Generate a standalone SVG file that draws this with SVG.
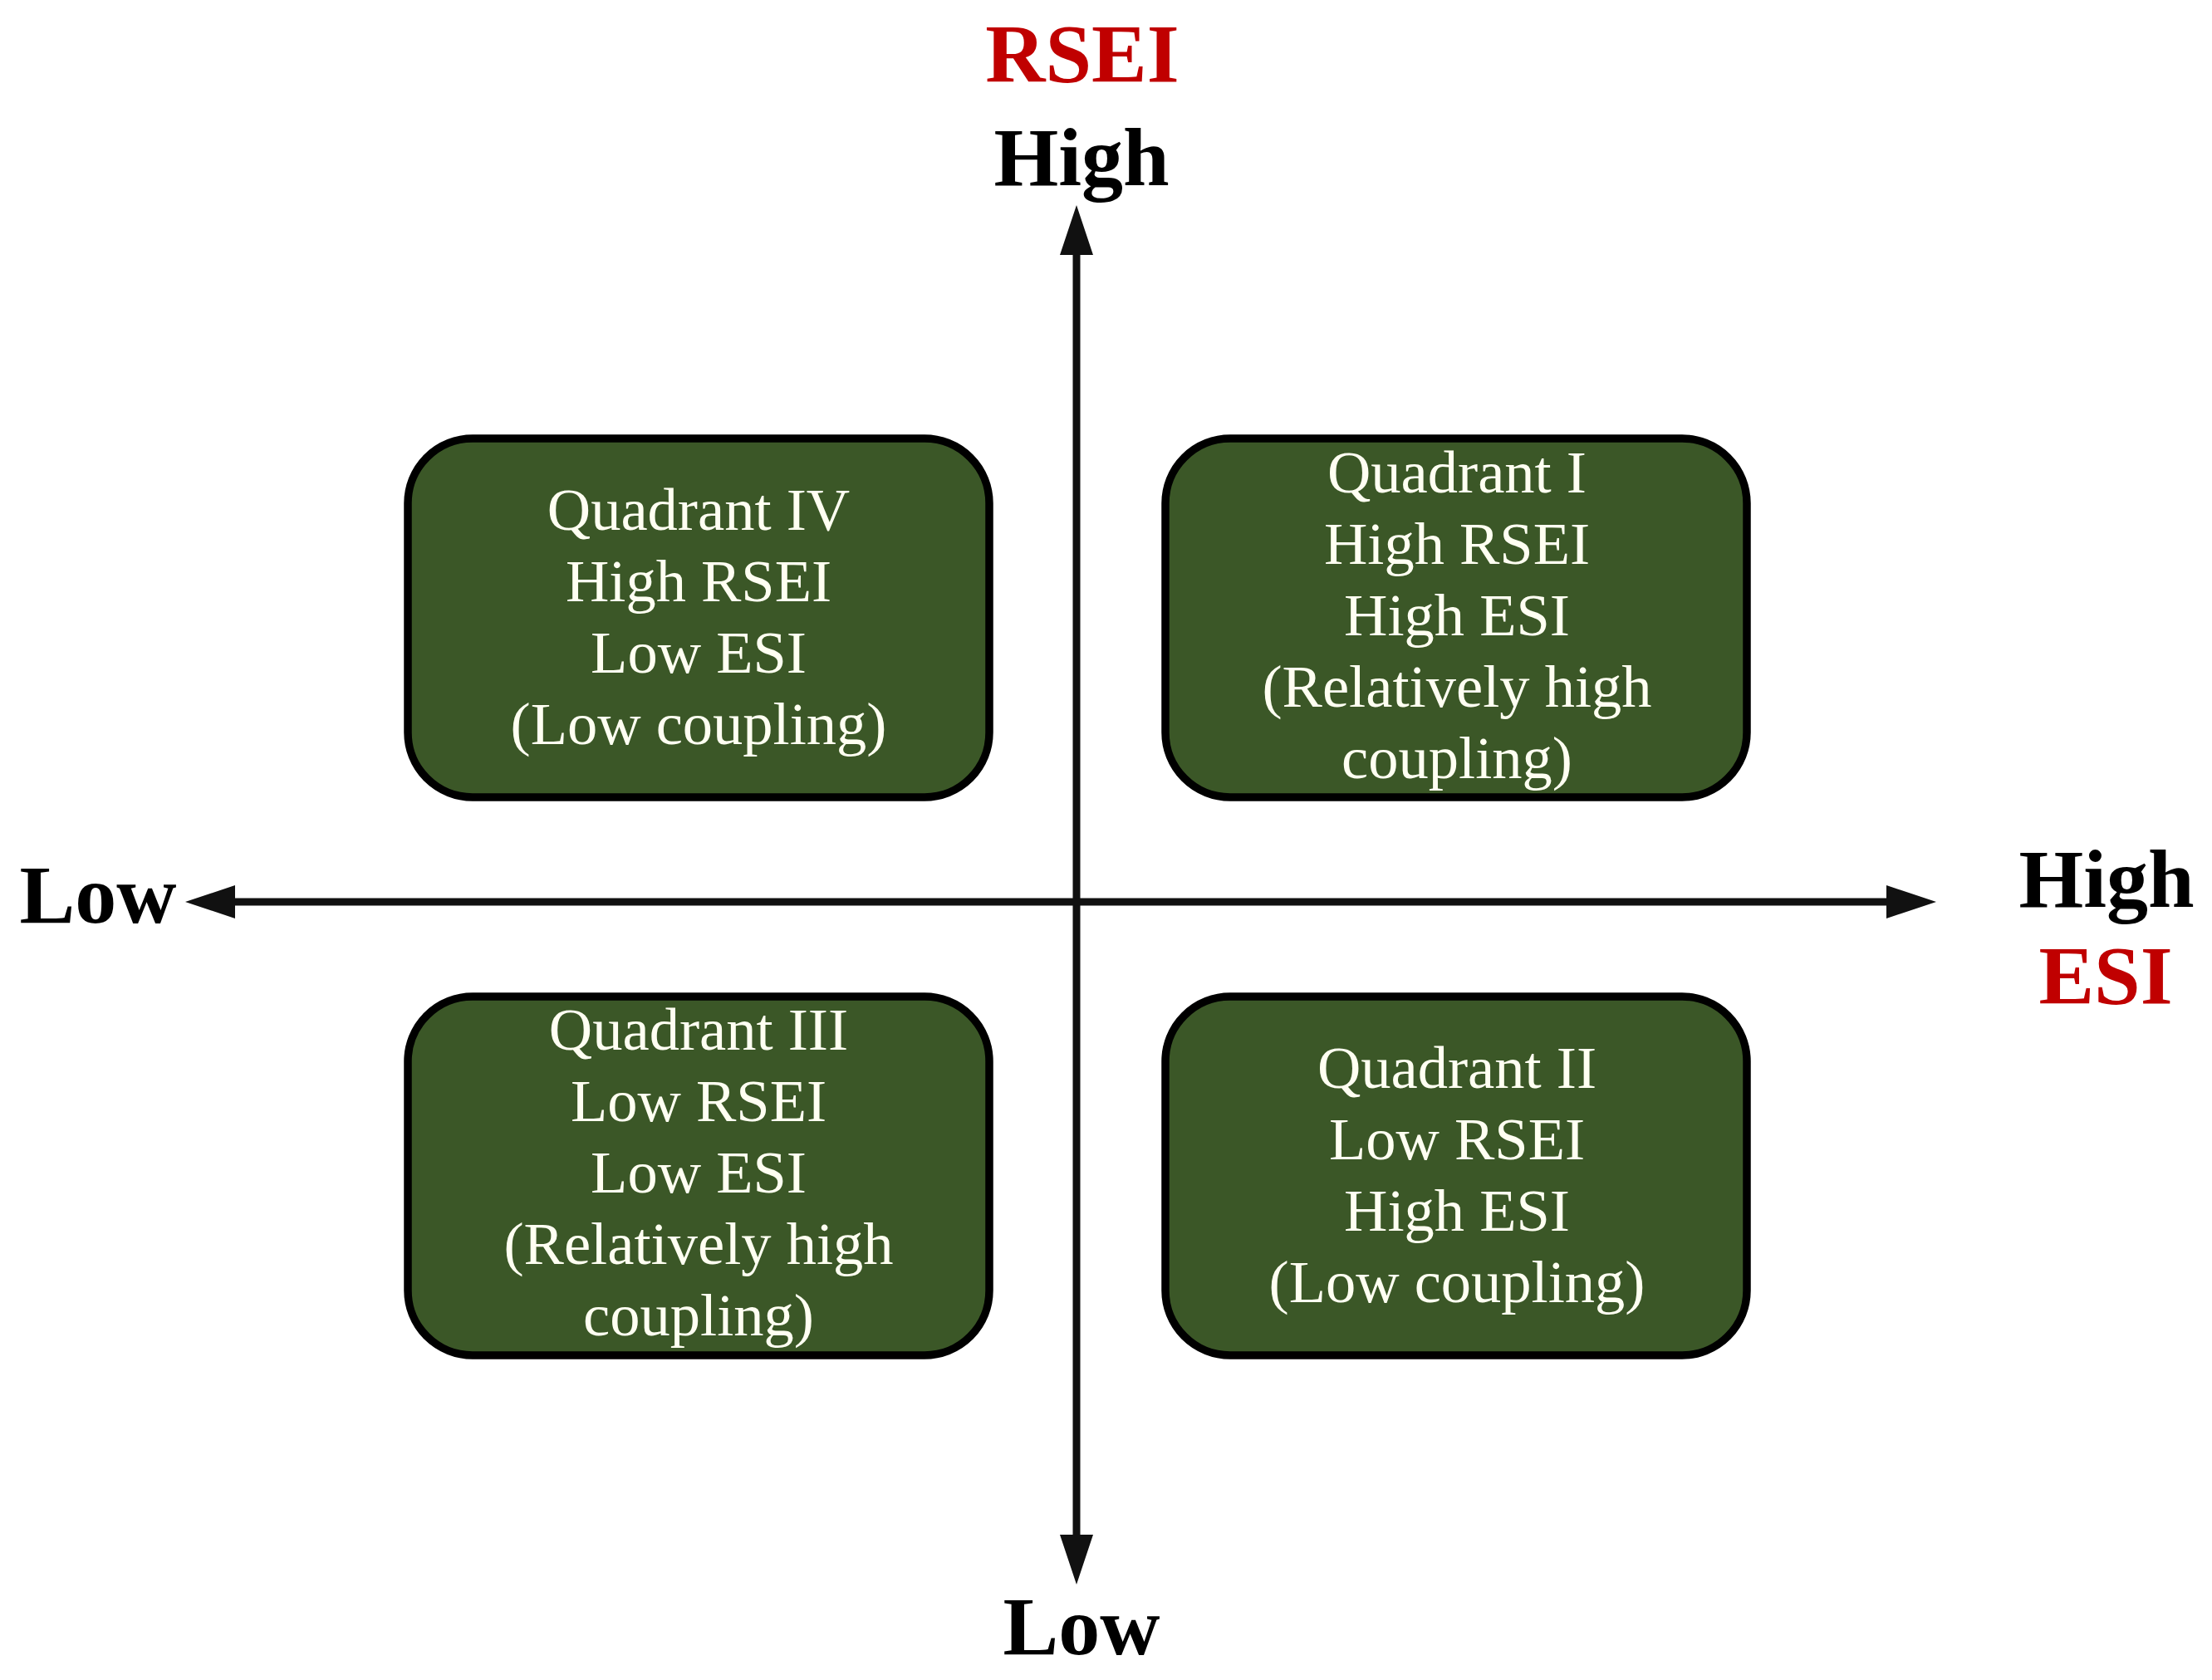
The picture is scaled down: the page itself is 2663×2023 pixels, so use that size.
<svg xmlns="http://www.w3.org/2000/svg" width="2663" height="2023" viewBox="0 0 2663 2023">
  <defs>
    <style>
      .box { fill: #3B5727; stroke: #000; stroke-width: 9.5; }
      .bt { font-family: "Liberation Serif", "Times New Roman", serif; font-size: 72.5px; fill: #FFFFF2; text-anchor: middle; }
      .ax { font-family: "Liberation Serif", "Times New Roman", serif; font-size: 100px; font-weight: bold; text-anchor: middle; }
      .blk { fill: #000; }
      .red { fill: #C00000; }
      .axis { stroke: #111; stroke-width: 9; fill: none; }
    </style>
    <marker id="arr" viewBox="0 0 60 40" refX="0" refY="20" markerWidth="60" markerHeight="40" markerUnits="userSpaceOnUse" orient="auto-start-reverse">
      <path d="M0,0 L60,20 L0,40 Z" fill="#111"/>
    </marker>
  </defs>
  <rect width="2663" height="2023" fill="#fff"/>

  <g id="connectors">
    <line class="axis" x1="1296" y1="307" x2="1296" y2="1848" marker-start="url(#arr)" marker-end="url(#arr)"/>
    <line class="axis" x1="283" y1="1086" x2="2271" y2="1086" marker-start="url(#arr)" marker-end="url(#arr)"/>
  </g>

  <g id="axis-labels">
    <text class="ax red" x="1303" y="98">RSEI</text>
    <text class="ax blk" x="1302" y="223">High</text>
    <text class="ax blk" x="1302" y="1992">Low</text>
    <text class="ax blk" x="118" y="1111">Low</text>
    <text class="ax blk" x="2536" y="1092">High</text>
    <text class="ax red" x="2535" y="1208">ESI</text>
  </g>

  <g id="quadrant-iv">
    <rect class="box" x="491" y="528" width="700" height="432" rx="78" ry="78"/>
    <text class="bt" x="841" y="638">Quadrant IV</text>
    <text class="bt" x="841" y="724">High RSEI</text>
    <text class="bt" x="841" y="810">Low ESI</text>
    <text class="bt" x="841" y="896">(Low coupling)</text>
  </g>

  <g id="quadrant-i">
    <rect class="box" x="1403" y="528" width="700" height="432" rx="78" ry="78"/>
    <text class="bt" x="1754" y="593">Quadrant I</text>
    <text class="bt" x="1754" y="679">High RSEI</text>
    <text class="bt" x="1754" y="765">High ESI</text>
    <text class="bt" x="1754" y="851">(Relatively high</text>
    <text class="bt" x="1754" y="937">coupling)</text>
  </g>

  <g id="quadrant-iii">
    <rect class="box" x="491" y="1200" width="700" height="432" rx="78" ry="78"/>
    <text class="bt" x="841" y="1264">Quadrant III</text>
    <text class="bt" x="841" y="1350">Low RSEI</text>
    <text class="bt" x="841" y="1436">Low ESI</text>
    <text class="bt" x="841" y="1522">(Relatively high</text>
    <text class="bt" x="841" y="1608">coupling)</text>
  </g>

  <g id="quadrant-ii">
    <rect class="box" x="1403" y="1200" width="700" height="432" rx="78" ry="78"/>
    <text class="bt" x="1754" y="1310">Quadrant II</text>
    <text class="bt" x="1754" y="1396">Low RSEI</text>
    <text class="bt" x="1754" y="1482">High ESI</text>
    <text class="bt" x="1754" y="1568">(Low coupling)</text>
  </g>
</svg>
